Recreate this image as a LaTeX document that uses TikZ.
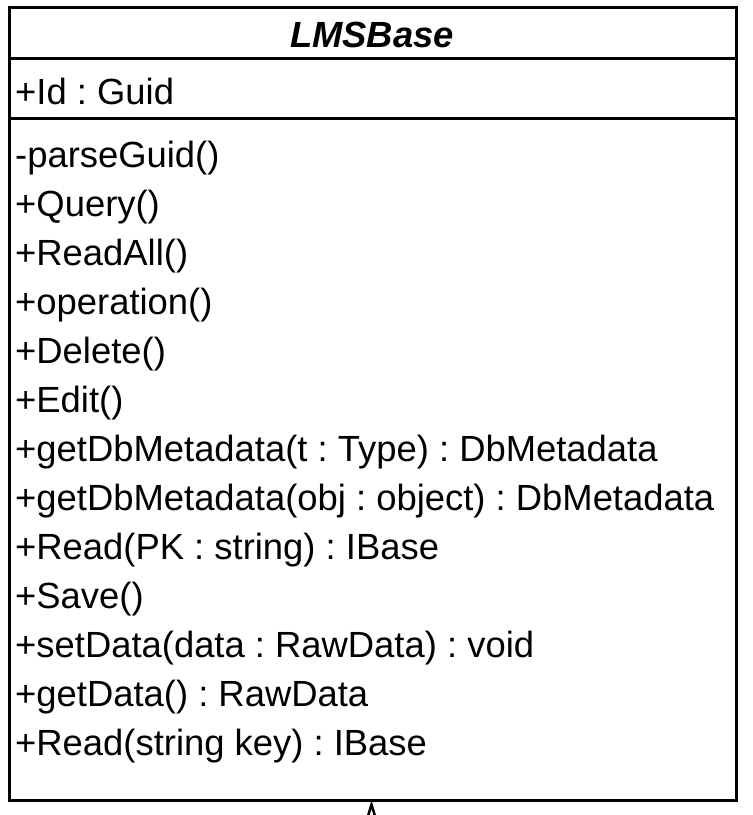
\documentclass[tikz,border=0pt]{standalone}
\usepackage{fontspec}
\setmainfont{Liberation Sans}
\usepackage{tikz}
\usetikzlibrary{positioning}
\frenchspacing
\newcommand{\umlfont}{\fontsize{36.4}{40}\selectfont}
\tikzset{
    classline/.style={draw=black, line width=3pt},
    classname/.style={anchor=base, inner sep=0pt, font=\umlfont\bfseries\itshape},
    member/.style={anchor=base west, inner sep=0pt, font=\umlfont},
}

\begin{document}
\begin{tikzpicture}[x=1pt, y=-1pt]
        \clip (0,0) rectangle (753,815);
        \fill[white] (0,0) rectangle (753,815);

        % class box
        \coordinate (nw) at (9,7.5);
        \coordinate (se) at (736,800.5);
        \draw[classline] (nw) rectangle (se);
        \draw[classline] (9,58) -- (736,58);
        \draw[classline] (9,118) -- (736,118);

        \node[classname] (name) at (372,47) {LMSBase};
        \node[member] (attr) at (15,104) {+Id : Guid};

        \foreach \txt [count=\i from 0] in {
            {-parseGuid()},
            {+Query()},
            {+ReadAll()},
            {+operation()},
            {+Delete()},
            {+Edit()},
            {+getDbMetadata(t : Type) : DbMetadata},
            {+getDbMetadata(obj : object) : DbMetadata},
            {+Read(PK : string) : IBase},
            {+Save()},
            {+setData(data : RawData) : void},
            {+getData() : RawData},
            {+Read(string key) : IBase}}
            \node[member] (m\i) at (15,{167+49*\i}) {\txt};

        % generalization arrow coming from below
        \coordinate (gen) at (371.5,804.5);
        \draw[classline, line width=2.5pt, line join=miter] (368,816) -- (gen) -- (375,816);
    \end{tikzpicture}
\end{document}
